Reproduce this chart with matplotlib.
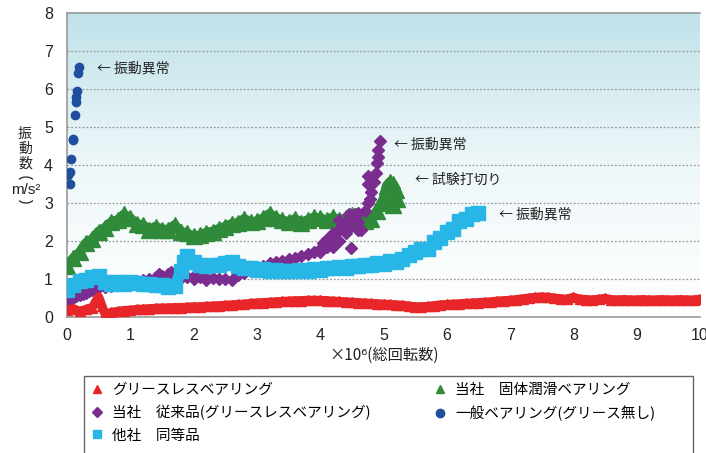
import numpy as np
import matplotlib.pyplot as plt
from matplotlib.colors import LinearSegmentedColormap
from matplotlib.lines import Line2D
from matplotlib.patches import Rectangle, Arc

plt.rcParams['font.family'] = ['Noto Sans CJK JP', 'DejaVu Sans']

# グリースレスベアリング (red)
red_x = [0.0, 0.1, 0.2, 0.3, 0.4, 0.45, 0.5, 0.55, 0.6, 0.7, 0.8, 0.9, 1.0, 1.1, 1.2, 1.3, 1.4, 1.5,
         1.6, 1.7, 1.8, 1.9, 2.0, 2.1, 2.2, 2.3, 2.4, 2.5, 2.6, 2.7, 2.8, 2.9, 3.0, 3.1, 3.2, 3.3,
         3.4, 3.5, 3.6, 3.7, 3.8, 3.9, 4.0, 4.1, 4.2, 4.3, 4.4, 4.5, 4.6, 4.7, 4.8, 4.9, 5.0, 5.1,
         5.2, 5.3, 5.4, 5.5, 5.6, 5.7, 5.8, 5.9, 6.0, 6.1, 6.2, 6.3, 6.4, 6.5, 6.6, 6.7, 6.8, 6.9,
         7.0, 7.1, 7.2, 7.3, 7.4, 7.5, 7.6, 7.7, 7.8, 7.9, 8.0, 8.1, 8.2, 8.3, 8.4, 8.5, 8.6, 8.7,
         8.8, 8.9, 9.0, 9.1, 9.2, 9.3, 9.4, 9.5, 9.6, 9.7, 9.8, 9.9, 10.0]
red_y = [0.18, 0.22, 0.15, 0.2, 0.25, 0.4, 0.53, 0.3, 0.08, 0.12, 0.15, 0.17, 0.18, 0.2, 0.21, 0.22, 0.23, 0.24,
         0.24, 0.25, 0.25, 0.26, 0.27, 0.27, 0.28, 0.29, 0.3, 0.31, 0.32, 0.33, 0.34, 0.36, 0.37, 0.38, 0.39, 0.4,
         0.41, 0.42, 0.43, 0.43, 0.44, 0.44, 0.44, 0.43, 0.42, 0.41, 0.4, 0.39, 0.38, 0.37, 0.36, 0.35, 0.34, 0.33,
         0.32, 0.31, 0.29, 0.27, 0.27, 0.28, 0.3, 0.32, 0.33, 0.34, 0.35, 0.36, 0.37, 0.38, 0.39, 0.4, 0.42, 0.43,
         0.44, 0.46, 0.48, 0.5, 0.52, 0.53, 0.52, 0.5, 0.48, 0.47, 0.52, 0.47, 0.46, 0.45, 0.47, 0.49, 0.46, 0.45,
         0.46, 0.45, 0.45, 0.46, 0.45, 0.45, 0.46, 0.45, 0.45, 0.46, 0.45, 0.45, 0.47]

# 当社 固体潤滑ベアリング (green)
green_x = [0.0, 0.1, 0.2, 0.3, 0.4, 0.5, 0.6, 0.7, 0.8, 0.9, 1.0, 1.1, 1.2, 1.3, 1.4, 1.5, 1.6, 1.7,
           1.8, 1.9, 2.0, 2.1, 2.2, 2.3, 2.4, 2.5, 2.6, 2.7, 2.8, 2.9, 3.0, 3.1, 3.2, 3.3, 3.4, 3.5,
           3.6, 3.7, 3.8, 3.9, 4.0, 4.1, 4.2, 4.3, 4.4, 4.5, 4.6, 4.7, 4.8, 4.9, 5.0, 5.05, 5.1, 5.15,
           5.2, 5.22, 5.15, 5.05]
green_y = [1.35, 1.55, 1.7, 1.95, 2.05, 2.25, 2.35, 2.5, 2.55, 2.7, 2.6, 2.45, 2.42, 2.3, 2.38, 2.3, 2.3, 2.42,
           2.25, 2.2, 2.12, 2.15, 2.22, 2.25, 2.32, 2.38, 2.45, 2.48, 2.58, 2.5, 2.52, 2.6, 2.72, 2.6, 2.55, 2.5,
           2.58, 2.48, 2.55, 2.62, 2.6, 2.55, 2.62, 2.55, 2.6, 2.68, 2.55, 2.52, 2.58, 2.8, 3.1, 3.45, 3.55, 3.5,
           3.35, 3.1, 2.95, 3.0]

# 当社 従来品 (purple)
purple_x = [0.0, 0.05, 0.1, 0.15, 0.2, 0.25, 0.3, 0.35, 0.4, 0.45, 0.5, 0.6, 0.7, 0.8, 0.9, 1.0, 1.1, 1.2,
            1.3, 1.4, 1.5, 1.6, 1.7, 1.8, 1.9, 2.0, 2.1, 2.2, 2.3, 2.4, 2.5, 2.6, 2.7, 2.8, 2.9, 3.0,
            3.1, 3.2, 3.3, 3.4, 3.5, 3.6, 3.7, 3.8, 3.9, 4.0, 4.05, 4.1, 4.15, 4.2, 4.25, 4.3, 4.35, 4.4,
            4.45, 4.5, 4.55, 4.6, 4.65, 4.7, 4.75, 4.78, 4.8, 4.76, 4.75, 4.85, 4.88, 4.9, 4.92, 4.92, 4.94,
            4.0, 4.1, 4.2, 4.3, 4.4, 4.49, 4.6, 4.3, 4.45, 4.6, 1.5, 1.6, 2.0, 2.2, 1.45, 1.65]
purple_y = [0.4, 0.45, 0.5, 0.55, 0.58, 0.6, 0.62, 0.68, 0.72, 0.75, 0.78, 0.8, 0.82, 0.85, 0.88, 0.9, 0.95, 0.98,
            1.0, 1.05, 1.08, 1.12, 1.05, 1.03, 1.05, 1.08, 1.05, 1.03, 1.02, 1.0, 1.0, 0.98, 1.1, 1.15, 1.2, 1.25,
            1.35, 1.42, 1.45, 1.48, 1.52, 1.55, 1.6, 1.65, 1.7, 1.8, 1.95, 2.05, 2.1, 2.2, 2.0, 2.3, 2.45, 2.5,
            2.35, 2.6, 2.7, 2.5, 2.3, 2.8, 3.0, 3.1, 3.3, 3.5, 3.7, 3.55, 3.8, 4.05, 4.2, 4.4, 4.62,
            1.7, 1.85, 1.85, 2.0, 2.2, 1.81, 2.3, 2.55, 2.7, 2.75, 1.0, 1.05, 1.0, 0.98, 1.12, 1.18]

# 他社 同等品 (cyan)
cyan_x = [0.0, 0.1, 0.2, 0.3, 0.4, 0.5, 0.6, 0.7, 0.8, 0.9, 1.0, 1.1, 1.2, 1.3, 1.4, 1.5, 1.6, 1.7,
          1.8, 1.85, 1.9, 2.0, 2.1, 2.2, 2.3, 2.4, 2.5, 2.6, 2.7, 2.8, 2.9, 3.0, 3.1, 3.2, 3.3, 3.4,
          3.5, 3.6, 3.7, 3.8, 3.9, 4.0, 4.1, 4.2, 4.3, 4.4, 4.5, 4.6, 4.7, 4.8, 4.9, 5.0, 5.1, 5.2,
          5.3, 5.4, 5.5, 5.6, 5.7, 5.8, 5.9, 6.0, 6.1, 6.2, 6.3, 6.4, 6.5]
cyan_y = [0.72, 0.85, 0.95, 0.98, 1.05, 1.08, 0.92, 0.88, 0.93, 0.88, 0.92, 0.9, 0.86, 0.88, 0.83, 0.85, 0.78, 0.82,
          1.2, 1.45, 1.6, 1.45, 1.36, 1.35, 1.38, 1.36, 1.42, 1.45, 1.35, 1.3, 1.28, 1.25, 1.27, 1.22, 1.24, 1.2,
          1.22, 1.2, 1.24, 1.22, 1.27, 1.25, 1.3, 1.28, 1.32, 1.3, 1.35, 1.33, 1.38, 1.36, 1.42, 1.4, 1.47, 1.46,
          1.52, 1.62, 1.7, 1.78, 1.8, 1.98, 2.08, 2.24, 2.32, 2.52, 2.58, 2.7, 2.74]

# 一般ベアリング (navy)
navy_x = [0.02, 0.04, 0.05, 0.06, 0.09, 0.1, 0.13, 0.15, 0.15, 0.16, 0.18, 0.19]
navy_y = [3.74, 3.82, 3.49, 4.15, 4.68, 4.65, 5.32, 5.67, 5.8, 5.96, 6.41, 6.59]

labels = ['グリースレスベアリング', '当社　従来品(グリースレスベアリング)', '他社　同等品',
          '当社　固体潤滑ベアリング', '一般ベアリング(グリース無し)']

c_red = '#e8262a'
c_green = '#2f8a3a'
c_purple = '#7a2c8f'
c_cyan = '#27b6e6'
c_navy = '#1f4e9e'

fig = plt.figure(figsize=(7.06, 4.53), dpi=100)
ax = fig.add_axes([67 / 706, 1 - 317 / 453, 633 / 706, 304 / 453])

# background gradient
cmap = LinearSegmentedColormap.from_list('bg', ['#ffffff', '#eef7f9', '#c0e2e9'])
grad = np.linspace(0, 1, 256).reshape(-1, 1)
ax.imshow(grad, extent=[0, 10, 0, 8], origin='lower', aspect='auto', cmap=cmap, zorder=0)

for yv in range(1, 8):
    ax.axhline(yv, color='#9a9a9a', lw=0.9, ls=(0, (1.5, 1.5)), zorder=1)

# series
ax.plot(green_x, green_y, color=c_green, lw=7, marker='^', ms=11, zorder=3)
ax.plot(purple_x, purple_y, color=c_purple, lw=0, marker='D', ms=6.5, zorder=4)
ax.plot(cyan_x, cyan_y, color=c_cyan, lw=8, marker='s', ms=10, zorder=5)
ax.plot(red_x, red_y, color=c_red, lw=6.5, marker='^', ms=7, zorder=6)
ax.plot(navy_x, navy_y, color=c_navy, lw=0, marker='o', ms=6, zorder=6)

# annotations
ann_kw = dict(fontsize=10, va='center', ha='left', color='#222222', zorder=7)
ax.text(0.476, 6.55, '← 振動異常', **ann_kw)
ax.text(5.17, 4.55, '← 振動異常', **ann_kw)
ax.text(5.49, 3.6, '← 試験打切り', **ann_kw)
ax.text(6.83, 2.71, '← 振動異常', **ann_kw)

ax.set_xlim(0, 10)
ax.set_ylim(0, 8)
ax.set_xticks(range(0, 11))
ax.set_yticks(range(0, 9))
ax.tick_params(length=0, labelsize=11.5, colors='#222222')
ax.tick_params(axis='x', pad=8)
ax.tick_params(axis='y', pad=10)
for lab in ax.get_xticklabels() + ax.get_yticklabels():
    lab.set_fontfamily('Liberation Sans')
for side in ['left', 'bottom', 'top']:
    ax.spines[side].set_color('#999999')
    ax.spines[side].set_linewidth(1.2)
ax.spines['right'].set_visible(False)

# overlay in pixel units for the hand-drawn bits
over = fig.add_axes([0, 0, 1, 1], zorder=-1)
over.set_xlim(0, 706)
over.set_ylim(453, 0)
over.axis('off')
over.patch.set_alpha(0)

# y label (vertical Japanese)
fig.text(25 / 706, 1 - 149 / 453, '振\n動\n数', fontsize=10, ha='center', va='center',
         linespacing=1.05, color='#222222')
fig.text(26 / 706, 1 - 190 / 453, 'm/s²', fontsize=11, ha='center', va='center',
         family='Liberation Sans', color='#222222')
# vertical parentheses as arcs (y axis of overlay is flipped)
over.add_patch(Arc((26, 182), 16, 10, theta1=200, theta2=340, color='#222222', lw=0.9))
over.add_patch(Arc((26, 198), 16, 10, theta1=20, theta2=160, color='#222222', lw=0.9))

# x label
fig.text(384 / 706, 1 - 355 / 453, '×10⁶(総回転数)', fontsize=11, ha='center', va='center',
         color='#222222')

# legend frame drawn by hand, legend itself without frame
over.add_patch(Rectangle((84, 376), 693 - 84, 90, fill=False, edgecolor='#666666', lw=1.0))
handles = [
    Line2D([], [], color=c_red, marker='^', lw=0, ms=6),
    Line2D([], [], color=c_purple, marker='D', lw=0, ms=5),
    Line2D([], [], color=c_cyan, marker='s', lw=0, ms=6),
    Line2D([], [], color=c_green, marker='^', lw=0, ms=6),
    Line2D([], [], color=c_navy, marker='o', lw=0, ms=6),
]
leg = fig.legend(handles, labels, ncol=2, loc='upper left',
                 bbox_to_anchor=(84 / 706, 1 - 376 / 453), fontsize=10.5,
                 frameon=False, handlelength=0.8, handletextpad=0.6, labelspacing=0.55,
                 columnspacing=4.4, borderpad=0.5, borderaxespad=0)

fig.savefig('out.png', dpi=100, facecolor='white')
